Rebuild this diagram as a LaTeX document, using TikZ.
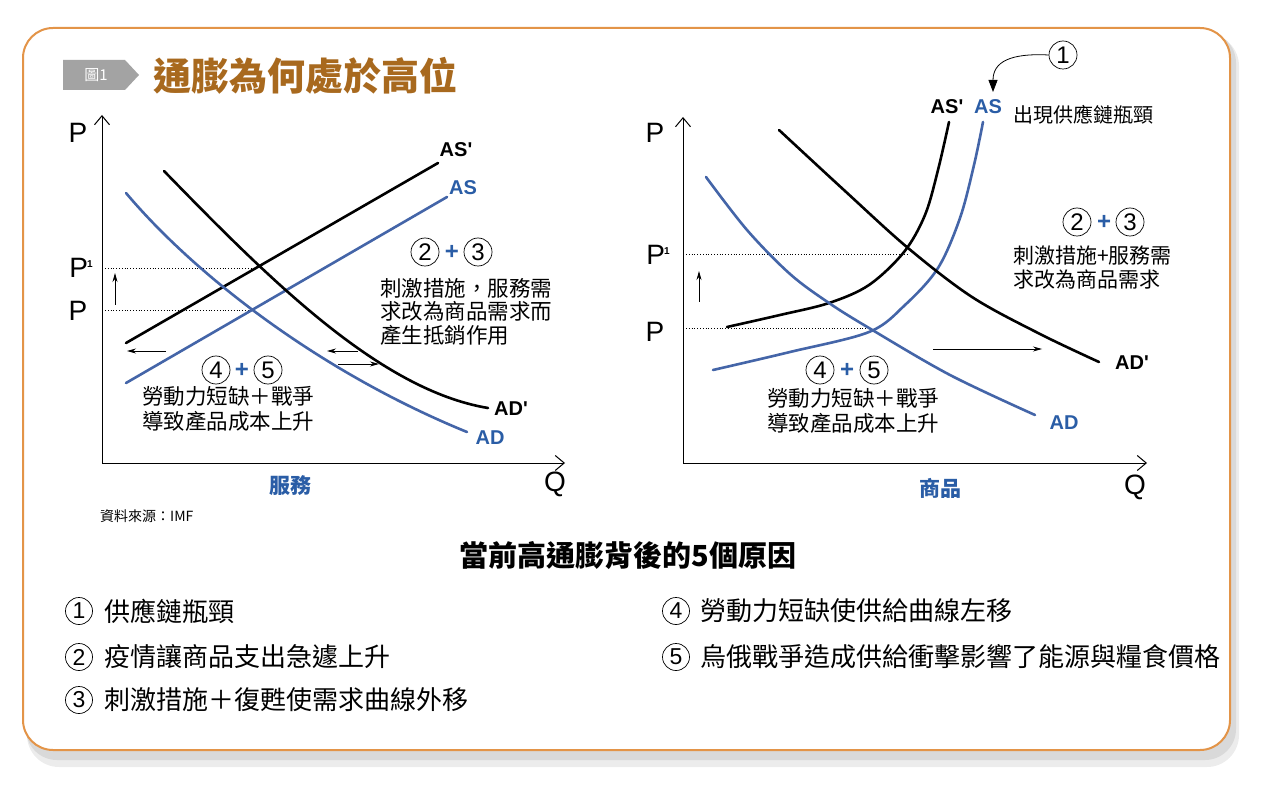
\documentclass[tikz,border=0pt]{standalone}
\usepackage{fontspec}
\setmainfont{Liberation Sans}
\newfontfamily\cjk{Noto Sans CJK TC}
\usetikzlibrary{arrows.meta}
\definecolor{cblue}{HTML}{4465A8}
\definecolor{lblue}{HTML}{2A5DA6}
\definecolor{titlebrown}{HTML}{A8691E}
\definecolor{frameor}{HTML}{E39448}
\definecolor{tabgray}{HTML}{A3A3A3}
\newcommand\supone{\kern-1pt\raisebox{10pt}{\bfseries\fontsize{10}{10}\selectfont 1}}
\begin{document}
\begin{tikzpicture}[x=1pt,y=-1pt,
  curveb/.style={line width=2.6pt, cblue, line cap=round},
  curvek/.style={line width=2.6pt, black, line cap=round},
  axisline/.style={line width=1pt, -{Straight Barb[length=9pt,width=15pt,line width=1pt]}},
  guide/.style={dotted, line width=0.8pt},
  smallarr/.style={line width=0.8pt, -{Stealth[length=9pt,width=5pt]}},
  axlab/.style={font=\fontsize{28}{28}\selectfont, inner sep=0},
  curvelab/.style={font=\bfseries\fontsize{20}{20}\selectfont, inner sep=0},
  blab/.style={curvelab, text=lblue},
  cjktxt/.style={font=\cjk\fontsize{21}{23.5}\selectfont, align=left, inner sep=0, anchor=north west},
  cnum/.style={circle, draw, line width=0.7pt, minimum size=28pt, inner sep=0, font=\fontsize{24}{24}\selectfont},
  lnum/.style={circle, draw, line width=0.7pt, minimum size=27pt, inner sep=0, font=\fontsize{23}{23}\selectfont},
  plusn/.style={text=lblue, font=\bfseries\fontsize{24}{24}\selectfont, inner sep=0},
  listtxt/.style={font=\cjk\fontsize{26}{26}\selectfont, anchor=west, inner sep=0},
]
\useasboundingbox (0,0) rectangle (1269,786);
% frame and shadow
\fill[gray!15, rounded corners=32] (27,34) rectangle (1239,767);
\fill[gray!30, rounded corners=31] (26,32) rectangle (1236,760);
\draw[frameor, line width=2pt, fill=white, rounded corners=30] (23,28) rectangle (1230,750);
% title tab
\fill[tabgray] (63,60) -- (125,60) -- (139,75) -- (125,90) -- (63,90) -- cycle;
\node[text=white, font=\cjk\fontsize{15}{15}\selectfont, inner sep=0] (tab) at (96,75) {圖1};
\node[text=titlebrown, font=\cjk\bfseries\fontsize{38}{38}\selectfont, anchor=west, inner sep=0] (title) at (153,76) {通膨為何處於高位};

% ===== left chart =====
\coordinate (LO) at (102,463);
\coordinate (LYT) at (102,115);
\coordinate (LXR) at (565,463);
\draw[axisline] (LO) -- (LYT);
\draw[axisline] (LO) -- (LXR);
\node[axlab] (lP) at (78,133) {P};
\node[axlab] (lP1) at (81,268) {P\supone};
\node[axlab] (lP0) at (78,311) {P};
\node[axlab] (lQ) at (555,484) {Q};
\coordinate (lg1a) at (105,268); \coordinate (lg1b) at (258,268);
\coordinate (lg0a) at (105,310); \coordinate (lg0b) at (250,310);
\draw[guide] (lg1a) -- (lg1b);
\draw[guide] (lg0a) -- (lg0b);
\coordinate (lua) at (115,305); \coordinate (lub) at (115,273);
\draw[smallarr] (lua) -- (lub);
% curves
\draw[curvek] (126,343) -- (438,163);
\draw[curveb] (126,383) -- (447,197);
\draw[curveb] (126,193) .. controls (195,275) and (320,372) .. (467,432);
\draw[curvek] (164,171) .. controls (270,280) and (380,390) .. (488,408);
\node[curvelab] (lASp) at (456,150) {AS\textquotesingle};
\node[blab] (lAS) at (463,188) {AS};
\node[curvelab] (lADp) at (511,409) {AD\textquotesingle};
\node[blab] (lAD) at (490,438) {AD};
% shift arrows
\coordinate (la1) at (166,351); \coordinate (la2) at (127,351);
\draw[smallarr] (la1) -- (la2);
\coordinate (la3) at (358,351); \coordinate (la4) at (327,351);
\draw[smallarr] (la3) -- (la4);
\coordinate (la5) at (338,364); \coordinate (la6) at (379,364);
\draw[smallarr] (la5) -- (la6);
% annotations
\node[cnum] (l2) at (425,252) {2};
\node[plusn] (lplus1) at (452,252) {+};
\node[cnum] (l3) at (478,252) {3};
\node[cjktxt, font=\cjk\fontsize{21.5}{23.5}\selectfont] (ltxt1) at (380,278) {刺激措施，服務需\\求改為商品需求而\\產生抵銷作用};
\node[cnum] (l4) at (216,370) {4};
\node[plusn] (lplus2) at (242,370) {+};
\node[cnum] (l5) at (268,370) {5};
\node[cjktxt, font=\cjk\fontsize{21.5}{25}\selectfont] (ltxt2) at (142,386) {勞動力短缺＋戰爭\\導致產品成本上升};
\node[text=lblue, font=\cjk\bfseries\fontsize{21}{21}\selectfont, inner sep=0] (lsvc) at (290,486) {服務};
\node[font=\cjk\fontsize{14}{14}\selectfont, anchor=west, inner sep=0] (src) at (100,516) {資料來源：IMF};

% ===== right chart =====
\coordinate (RO) at (683,463);
\coordinate (RYT) at (683,117);
\coordinate (RXR) at (1147,463);
\draw[axisline] (RO) -- (RYT);
\draw[axisline] (RO) -- (RXR);
\node[axlab] (rP) at (655,133) {P};
\node[axlab] (rP1) at (658,255) {P\supone};
\node[axlab] (rP0) at (655,332) {P};
\node[axlab] (rQ) at (1135,487) {Q};
\coordinate (rg1a) at (686,254); \coordinate (rg1b) at (908,254);
\coordinate (rg0a) at (686,328); \coordinate (rg0b) at (869,328);
\draw[guide] (rg1a) -- (rg1b);
\draw[guide] (rg0a) -- (rg0b);
\coordinate (rua) at (699,302); \coordinate (rub) at (699,271);
\draw[smallarr] (rua) -- (rub);
% curves
\draw[curvek] plot[smooth, tension=0.55] coordinates {(727,327) (780,315) (829,303) (869,285) (904,252) (925,215) (938,170) (949,122)};
\draw[curveb] plot[smooth, tension=0.55] coordinates {(713,370) (790,352) (869,332) (905,305) (938,268) (960,218) (974,165) (983,122)};
\draw[curvek] plot[smooth, tension=0.55] coordinates {(779,130) (845,191) (908,248) (972,297) (1040,334) (1099,362)};
\draw[curveb] plot[smooth, tension=0.55] coordinates {(706,177) (747,230) (790,274) (829,303) (869,328) (950,375) (1035,415)};
\node[curvelab] (rASp) at (947,107) {AS\textquotesingle};
\node[blab] (rAS) at (988,107) {AS};
\node[font=\cjk\fontsize{20}{20}\selectfont, anchor=west, inner sep=0] (rbott) at (1013,115) {出現供應鏈瓶頸};
\node[curvelab] (rADp) at (1132,363) {AD\textquotesingle};
\node[blab] (rAD) at (1064,423) {AD};
\coordinate (ra1) at (933,349); \coordinate (ra2) at (1042,349);
\draw[smallarr] (ra1) -- (ra2);
% circled 1 with curved arrow
\node[cnum] (r1) at (1063,55) {1};
\coordinate (r1tip) at (993,92);
\draw[line width=0.8pt, -{Triangle[length=12pt,width=9pt]}] (r1.west) .. controls (1010,53) and (993,62) .. (r1tip);
% annotations
\node[cnum] (r2) at (1077,222) {2};
\node[plusn] (rplus1) at (1104,222) {+};
\node[cnum] (r3) at (1130,222) {3};
\node[cjktxt, font=\cjk\fontsize{21}{24}\selectfont] (rtxt1) at (1013,246) {刺激措施+服務需\\求改為商品需求};
\node[cnum] (r4) at (820,370) {4};
\node[plusn] (rplus2) at (847,370) {+};
\node[cnum] (r5) at (874,370) {5};
\node[cjktxt, font=\cjk\fontsize{21.5}{25}\selectfont] (rtxt2) at (767,388) {勞動力短缺＋戰爭\\導致產品成本上升};
\node[text=lblue, font=\cjk\bfseries\fontsize{21}{21}\selectfont, inner sep=0] (rgoods) at (940,488) {商品};

% ===== bottom list =====
\node[font=\cjk\bfseries\fontsize{29}{29}\selectfont, inner sep=0] (btitle) at (628,556) {當前高通膨背後的5個原因};
\node[lnum] (n1) at (79,611) {1};
\node[listtxt] (i1) at (104,611) {供應鏈瓶頸};
\node[lnum] (n2) at (79,657) {2};
\node[listtxt] (i2) at (104,657) {疫情讓商品支出急遽上升};
\node[lnum] (n3) at (79,700) {3};
\node[listtxt] (i3) at (104,700) {刺激措施＋復甦使需求曲線外移};
\node[lnum] (n4) at (676,611) {4};
\node[listtxt] (i4) at (700,611) {勞動力短缺使供給曲線左移};
\node[lnum] (n5) at (676,657) {5};
\node[listtxt] (i5) at (700,657) {烏俄戰爭造成供給衝擊影響了能源與糧食價格};
\end{tikzpicture}
\end{document}
